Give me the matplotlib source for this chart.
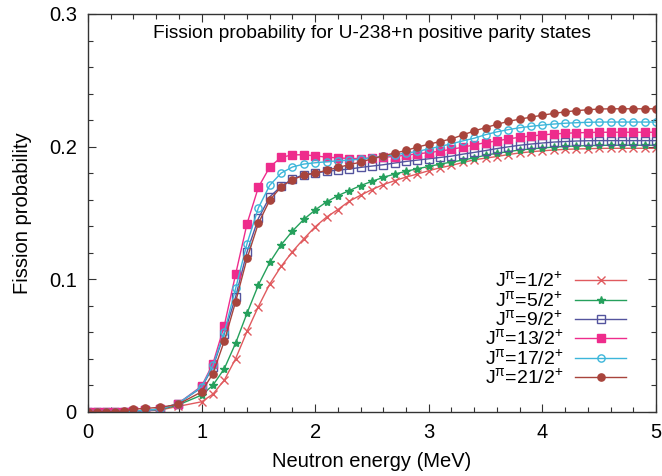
import numpy as np
from matplotlib import pyplot as plt
from matplotlib.ticker import MultipleLocator, FixedLocator, FixedFormatter

plt.rcParams['font.family'] = ['Liberation Sans', 'DejaVu Sans']
plt.rcParams['mathtext.fontset'] = 'custom'
plt.rcParams['mathtext.rm'] = 'Liberation Sans'
plt.rcParams['mathtext.it'] = 'Liberation Sans'
plt.rcParams['mathtext.fallback'] = 'stixsans'

TITLE = "Fission probability for U-238+n positive parity states"
X_LABEL = "Neutron energy (MeV)"
Y_LABEL = "Fission probability"

energy = [0.0, 0.08, 0.16, 0.24, 0.32, 0.4, 0.5, 0.63, 0.79,
          1.0, 1.1, 1.2, 1.3, 1.4, 1.5, 1.6, 1.7, 1.8, 1.9,
          2.0, 2.1, 2.2, 2.3, 2.4, 2.5, 2.6, 2.7, 2.8, 2.9,
          3.0, 3.1, 3.2, 3.3, 3.4, 3.5, 3.6, 3.7, 3.8, 3.9,
          4.0, 4.1, 4.2, 4.3, 4.4, 4.5, 4.6, 4.7, 4.8, 4.9, 5.0]

p_1_2 = [0.0, 0.0, 0.0, 0.0, 0.0, 0.0003, 0.0006, 0.0012, 0.004,
         0.0075, 0.0133, 0.0238, 0.0401, 0.0606, 0.0793, 0.0963, 0.1096, 0.1208, 0.1305,
         0.1395, 0.1468, 0.1525, 0.1588, 0.1633, 0.1676, 0.1713, 0.1743, 0.1770, 0.1793,
         0.1818, 0.1840, 0.1858, 0.1880, 0.1900, 0.1913, 0.1925, 0.1940, 0.1952, 0.1961,
         0.1968, 0.1974, 0.1979, 0.1982, 0.1984, 0.1986, 0.1987, 0.1987, 0.1987, 0.1987, 0.1987]

p_5_2 = [0.0, 0.0, 0.0, 0.0, 0.0, 0.0004, 0.0008, 0.0015, 0.005,
         0.0125, 0.0200, 0.0325, 0.0518, 0.0743, 0.0956, 0.1126, 0.1258, 0.1363, 0.1451,
         0.1522, 0.1583, 0.1630, 0.1668, 0.1706, 0.1738, 0.1768, 0.1793, 0.1813, 0.1833,
         0.1850, 0.1868, 0.1883, 0.1898, 0.1915, 0.1935, 0.1950, 0.1962, 0.1974, 0.1982,
         0.1990, 0.1996, 0.2001, 0.2005, 0.2007, 0.2009, 0.2010, 0.2010, 0.2010, 0.2010, 0.2010]

p_9_2 = [0.0, 0.0, 0.0, 0.0, 0.0, 0.0005, 0.001, 0.002, 0.006,
         0.0183, 0.0338, 0.0588, 0.0868, 0.1206, 0.1458, 0.1621, 0.1700, 0.1756, 0.1788,
         0.1800, 0.1813, 0.1823, 0.1830, 0.1843, 0.1853, 0.1863, 0.1876, 0.1888, 0.1898,
         0.1908, 0.1918, 0.1928, 0.1943, 0.1956, 0.1970, 0.1985, 0.1998, 0.2010, 0.2019,
         0.2027, 0.2034, 0.2038, 0.2042, 0.2044, 0.2045, 0.2045, 0.2045, 0.2045, 0.2045, 0.2045]

p_13_2 = [0.0, 0.0, 0.0, 0.0, 0.0, 0.0005, 0.001, 0.002, 0.006,
          0.0193, 0.0363, 0.0650, 0.1038, 0.1418, 0.1693, 0.1846, 0.1918, 0.1938, 0.1938,
          0.1930, 0.1920, 0.1915, 0.1910, 0.1910, 0.1915, 0.1920, 0.1925, 0.1935, 0.1945,
          0.1955, 0.1965, 0.1980, 0.1995, 0.2013, 0.2030, 0.2043, 0.2058, 0.2070, 0.2080,
          0.2088, 0.2095, 0.2100, 0.2104, 0.2106, 0.2108, 0.2108, 0.2108, 0.2108, 0.2108, 0.2108]

p_17_2 = [0.0, 0.0, 0.0, 0.0, 0.0, 0.0005, 0.001, 0.002, 0.006,
          0.0188, 0.0350, 0.0601, 0.0931, 0.1268, 0.1538, 0.1708, 0.1800, 0.1846, 0.1868,
          0.1878, 0.1885, 0.1893, 0.1898, 0.1905, 0.1915, 0.1926, 0.1938, 0.1951, 0.1963,
          0.1983, 0.2001, 0.2021, 0.2043, 0.2063, 0.2090, 0.2111, 0.2128, 0.2142, 0.2153,
          0.2162, 0.2170, 0.2176, 0.2180, 0.2183, 0.2185, 0.2185, 0.2185, 0.2185, 0.2185, 0.2185]

p_21_2 = [0.0, 0.0, 0.0, 0.0, 0.0005, 0.002, 0.0025, 0.0033, 0.0055,
          0.0150, 0.0288, 0.0533, 0.0831, 0.1156, 0.1421, 0.1596, 0.1696, 0.1751, 0.1783,
          0.1800, 0.1820, 0.1843, 0.1863, 0.1883, 0.1908, 0.1931, 0.1951, 0.1971, 0.1996,
          0.2018, 0.2038, 0.2058, 0.2088, 0.2118, 0.2143, 0.2168, 0.2190, 0.2207, 0.2222,
          0.2237, 0.2250, 0.2262, 0.2271, 0.2278, 0.2283, 0.2285, 0.2285, 0.2285, 0.2285, 0.2285]

labels = [r"J$^{\pi}$=1/2$^{+}$", r"J$^{\pi}$=5/2$^{+}$", r"J$^{\pi}$=9/2$^{+}$",
          r"J$^{\pi}$=13/2$^{+}$", r"J$^{\pi}$=17/2$^{+}$", r"J$^{\pi}$=21/2$^{+}$"]
series = [p_1_2, p_5_2, p_9_2, p_13_2, p_17_2, p_21_2]

x_ticks = [0, 1, 2, 3, 4, 5]
x_ticklabels = ["0", "1", "2", "3", "4", "5"]
y_ticks = [0.0, 0.1, 0.2, 0.3]
y_ticklabels = ["0", "0.1", "0.2", "0.3"]

# style for each curve: colour, marker, filled?
styles = [
    ("#e05a5e", "x", True),
    ("#25a05c", "*", True),
    ("#54549e", "s", False),
    ("#ee2c8c", "s", True),
    ("#3cb6da", "o", False),
    ("#a8443c", "o", True),
]

fig = plt.figure(figsize=(6.62, 4.76), dpi=100)
ax = fig.add_axes([0.1329, 0.135, 0.858, 0.8356])

for y, lab, (col, mk, filled) in zip(series, labels, styles):
    ax.plot(energy, y, color=col, lw=1.0, marker=mk,
            markersize=5.2 if mk != "*" else 6.0,
            markerfacecolor=col if filled else "none",
            markeredgecolor=col, markeredgewidth=1.0, label=lab)

ax.set_xlim(0, 5)
ax.set_ylim(0, 0.3)
ax.xaxis.set_major_locator(FixedLocator(x_ticks))
ax.xaxis.set_major_formatter(FixedFormatter(x_ticklabels))
ax.yaxis.set_major_locator(FixedLocator(y_ticks))
ax.yaxis.set_major_formatter(FixedFormatter(y_ticklabels))
ax.xaxis.set_minor_locator(MultipleLocator(0.2))
ax.yaxis.set_minor_locator(MultipleLocator(0.02))
ax.tick_params(which="both", direction="in", top=True, right=True,
               labelsize=14.5, width=0.8, color="#333333")
ax.tick_params(which="major", length=6, pad=8)
ax.tick_params(which="minor", length=3.5)
for sp in ax.spines.values():
    sp.set_color("#333333")
    sp.set_linewidth(1.0)

ax.set_xlabel(X_LABEL, fontsize=14.5, labelpad=7)
ax.set_ylabel(Y_LABEL, fontsize=14.5, labelpad=12)
ax.text(0.5, 0.952, TITLE, transform=ax.transAxes, ha="center", va="center",
        fontsize=13.8)

leg = ax.legend(loc="lower right", bbox_to_anchor=(0.965, 0.036), frameon=False,
                markerfirst=False, fontsize=14, handlelength=2.63,
                handletextpad=0.62, labelspacing=0.0, borderpad=0)

plt.savefig("out.png", dpi=100)
